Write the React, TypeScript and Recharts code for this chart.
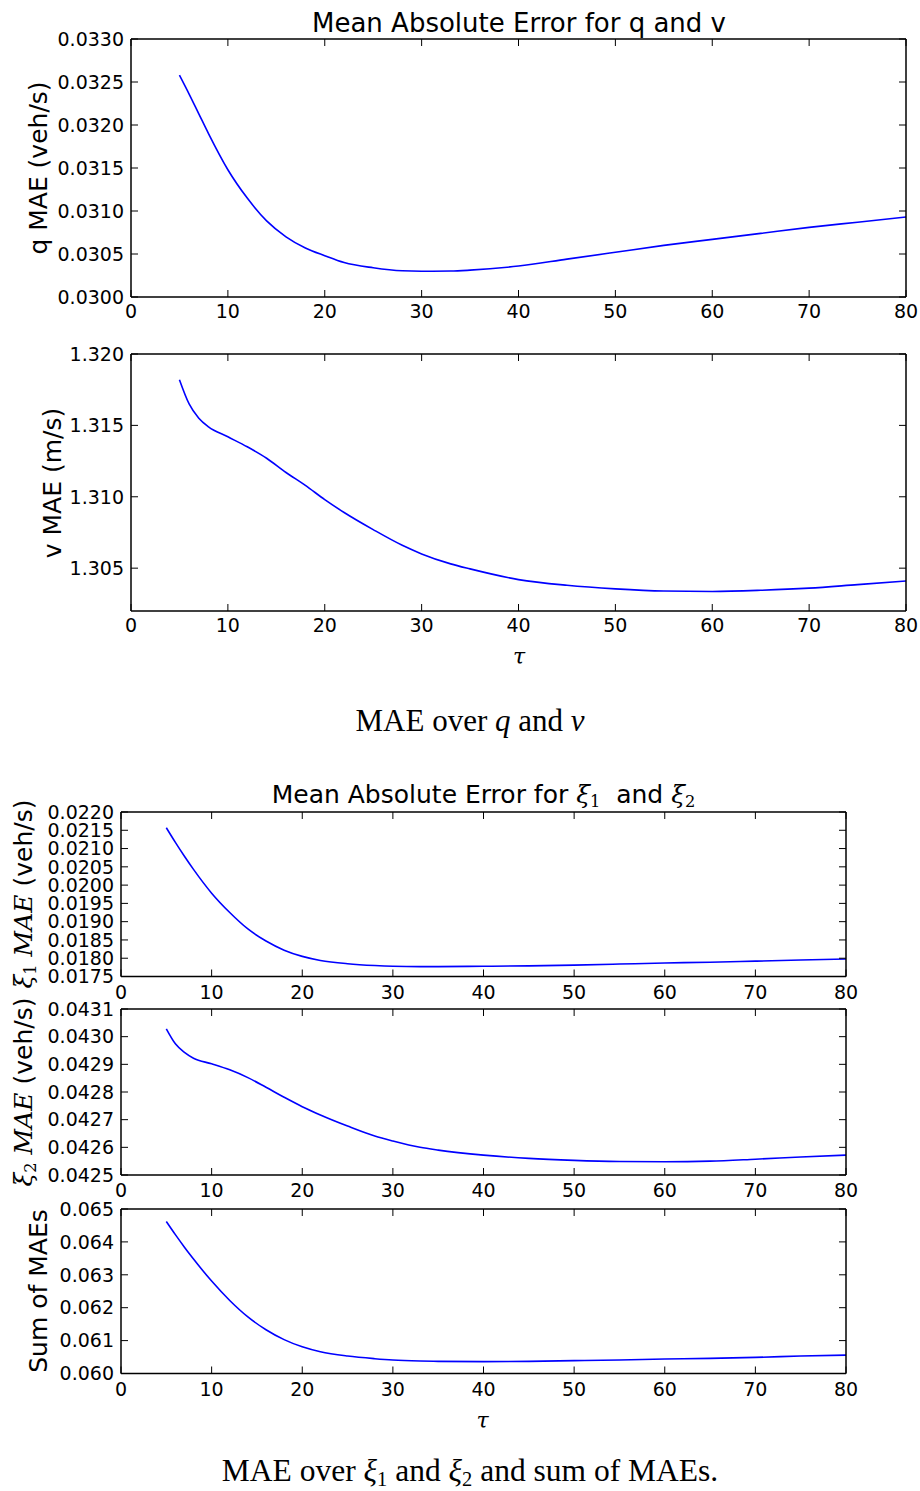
import React from 'react'
import { LineChart, Line, XAxis, YAxis } from 'recharts'

const TAU = [5, 6, 7, 8, 10, 12, 14, 16, 18, 20, 22, 25, 28, 30, 33, 35, 40, 45, 50, 55, 60, 65, 70, 75, 80]

const Q_MAE = [
  0.03258, 0.03236, 0.03213, 0.0319, 0.03148, 0.03115, 0.030885, 0.0307, 0.03057, 0.03048, 0.0304, 0.03034,
  0.030305, 0.0303, 0.030302, 0.030312, 0.03036, 0.03044, 0.03052, 0.0306, 0.03067, 0.03074, 0.03081, 0.03087, 0.03093
]
const V_MAE = [
  1.3182, 1.3165, 1.3155, 1.3149, 1.3142, 1.3135, 1.3127, 1.3117, 1.3108, 1.3098, 1.3089, 1.3077,
  1.3066, 1.306, 1.3053, 1.30495, 1.3042, 1.3038, 1.30355, 1.3034, 1.30337, 1.30345, 1.3036, 1.30385, 1.3041
]
const XI1_MAE = [
  0.02157, 0.02117, 0.02079, 0.02043, 0.01978, 0.01925, 0.0188, 0.01847, 0.01822, 0.01805, 0.01794, 0.01785,
  0.0178, 0.01778, 0.01777, 0.01777, 0.01778, 0.01779, 0.01781, 0.01784, 0.01787, 0.01789, 0.01792, 0.01795, 0.01798
]
const XI2_MAE = [
  0.043028, 0.042974, 0.042943, 0.042922, 0.042902, 0.04288, 0.042852, 0.042817, 0.042781, 0.042747, 0.042717,
  0.042677, 0.042641, 0.042623, 0.0426, 0.04259, 0.042572, 0.04256, 0.042553, 0.042549, 0.042548, 0.04255,
  0.042557, 0.042565, 0.042572
]
const SUM_MAE = [
  0.06462, 0.06422, 0.06384, 0.06348, 0.06281, 0.06222, 0.06172, 0.06133, 0.06103, 0.06081, 0.06066, 0.06053,
  0.06045, 0.06041, 0.06038, 0.06037, 0.06036, 0.06037, 0.06039, 0.06041, 0.06044, 0.06046, 0.06049, 0.06053, 0.06056
]

const X_TICKS = [0, 10, 20, 30, 40, 50, 60, 70, 80]
const Q_TICKS = [0.03, 0.0305, 0.031, 0.0315, 0.032, 0.0325, 0.033]
const V_TICKS = [1.305, 1.31, 1.315, 1.32]
const XI1_TICKS = [0.0175, 0.018, 0.0185, 0.019, 0.0195, 0.02, 0.0205, 0.021, 0.0215, 0.022]
const XI2_TICKS = [0.0425, 0.0426, 0.0427, 0.0428, 0.0429, 0.043, 0.0431]
const SUM_TICKS = [0.06, 0.061, 0.062, 0.063, 0.064, 0.065]

const SANS = '"DejaVu Sans", sans-serif'
const MATH = '"DejaVu Serif", serif'
const CAPTION = '"Liberation Serif", "Times New Roman", serif'

type PanelProps = {
  left: number
  right: number
  top: number
  bottom: number
  values: number[]
  domain: [number, number]
  ticks: number[]
  digits: number
  gap: number
}

function Panel({ left, right, top, bottom, values, domain, ticks, digits, gap }: PanelProps) {
  const data = TAU.map((t, i) => ({ tau: t, mae: values[i] }))
  const pad = 20
  const axisH = 40
  const height = bottom - top + pad + axisH
  const axisLine = { stroke: '#000', strokeWidth: 1.5 }
  const tickLine = { stroke: '#000', strokeWidth: 1 }
  const tickFont = { fill: '#000', fontSize: 19, fontFamily: SANS }

  return (
    <div style={{ position: 'absolute', left: 0, top: top - pad }}>
      <LineChart width={920} height={height} data={data} margin={{ top: pad, right: 920 - right, bottom: 0, left: 0 }}>
        <XAxis
          xAxisId="b"
          dataKey="tau"
          type="number"
          domain={[0, 80]}
          ticks={X_TICKS}
          interval={0}
          height={axisH}
          stroke="#000"
          axisLine={axisLine}
          tickLine={tickLine}
          tickSize={-7}
          tickMargin={7 + gap}
          tick={tickFont}
          allowDataOverflow
        />
        <XAxis
          xAxisId="t"
          orientation="top"
          dataKey="tau"
          type="number"
          domain={[0, 80]}
          ticks={X_TICKS}
          interval={0}
          mirror
          stroke="#000"
          axisLine={axisLine}
          tickLine={tickLine}
          tickSize={7}
          tickFormatter={() => ''}
          allowDataOverflow
        />
        <YAxis
          yAxisId="l"
          type="number"
          domain={domain}
          ticks={ticks}
          interval={0}
          width={left}
          stroke="#000"
          axisLine={axisLine}
          tickLine={tickLine}
          tickSize={-7}
          tickMargin={14}
          tick={tickFont}
          tickFormatter={(v: number) => v.toFixed(digits)}
          allowDataOverflow
        />
        <YAxis
          yAxisId="r"
          orientation="right"
          type="number"
          domain={domain}
          ticks={ticks}
          interval={0}
          mirror
          stroke="#000"
          axisLine={axisLine}
          tickLine={tickLine}
          tickSize={7}
          tickFormatter={() => ''}
          allowDataOverflow
        />
        <Line
          xAxisId="b"
          yAxisId="l"
          dataKey="mae"
          type="monotone"
          stroke="#0000ff"
          strokeWidth={1.6}
          dot={false}
          isAnimationActive={false}
        />
      </LineChart>
    </div>
  )
}

const Sub = ({ children }: { children: React.ReactNode }) => (
  <sub style={{ fontSize: '0.65em', fontStyle: 'normal', verticalAlign: '-0.25em', lineHeight: 0 }}>{children}</sub>
)

const Xi = ({ n }: { n: string }) => (
  <span style={{ fontFamily: MATH, fontStyle: 'italic' }}>
    ξ<Sub>{n}</Sub>
  </span>
)

function YLabel({ cx, cy, children }: { cx: number; cy: number; children: React.ReactNode }) {
  return (
    <div
      style={{
        position: 'absolute',
        left: cx,
        top: cy,
        transform: 'translate(-50%, -50%) rotate(-90deg)',
        whiteSpace: 'nowrap',
        fontFamily: SANS,
        fontSize: 25,
        lineHeight: 1,
        color: '#000'
      }}
    >
      {children}
    </div>
  )
}

function Text({ cx, top, size, font, italic, children }: { cx: number; top: number; size: number; font: string; italic?: boolean; children: React.ReactNode }) {
  return (
    <div
      style={{
        position: 'absolute',
        left: cx,
        top,
        transform: 'translateX(-50%)',
        whiteSpace: 'nowrap',
        fontFamily: font,
        fontSize: size,
        fontStyle: italic ? 'italic' : 'normal',
        lineHeight: 1,
        color: '#000'
      }}
    >
      {children}
    </div>
  )
}

export default function App() {
  return (
    <div style={{ position: 'absolute', left: 0, top: 0, width: 920, height: 1491, background: '#fff', overflow: 'hidden' }}>
      {/* q and v */}
      <Text cx={519} top={9.5} size={26} font={SANS}>Mean Absolute Error for q and v</Text>
      <Panel left={131} right={906} top={39} bottom={297} values={Q_MAE} domain={[0.03, 0.033]} ticks={Q_TICKS} digits={4} gap={8} />
      <YLabel cx={38} cy={168}>q MAE (veh/s)</YLabel>
      <Panel left={131} right={906} top={354} bottom={611} values={V_MAE} domain={[1.302, 1.32]} ticks={V_TICKS} digits={3} gap={8} />
      <YLabel cx={51.5} cy={482.5}>v MAE (m/s)</YLabel>
      <Text cx={519} top={646} size={22} font={MATH} italic>τ</Text>
      <Text cx={470} top={705} size={31} font={CAPTION}>
        MAE over <i>q</i> and <i>v</i>
      </Text>

      {/* xi1, xi2 and sum */}
      <Text cx={483.5} top={782} size={25} font={SANS}>
        Mean Absolute Error for <Xi n="1" />&nbsp; and <Xi n="2" />
      </Text>
      <Panel left={121} right={846} top={811.5} bottom={976} values={XI1_MAE} domain={[0.0175, 0.022]} ticks={XI1_TICKS} digits={4} gap={9} />
      <YLabel cx={22.5} cy={894}>
        <span style={{ fontFamily: MATH, fontStyle: 'italic' }}>ξ<Sub>1</Sub> MAE</span> (veh/s)
      </YLabel>
      <Panel left={121} right={846} top={1009} bottom={1175} values={XI2_MAE} domain={[0.0425, 0.0431]} ticks={XI2_TICKS} digits={4} gap={9} />
      <YLabel cx={22.5} cy={1092}>
        <span style={{ fontFamily: MATH, fontStyle: 'italic' }}>ξ<Sub>2</Sub> MAE</span> (veh/s)
      </YLabel>
      <Panel left={121} right={846} top={1208.5} bottom={1373} values={SUM_MAE} domain={[0.06, 0.065]} ticks={SUM_TICKS} digits={3} gap={9} />
      <YLabel cx={38} cy={1291}>Sum of MAEs</YLabel>
      <Text cx={482.5} top={1410} size={22} font={MATH} italic>τ</Text>
      <Text cx={470} top={1455} size={31.5} font={CAPTION}>
        MAE over <i>ξ<Sub>1</Sub></i> and <i>ξ<Sub>2</Sub></i> and sum of MAEs.
      </Text>
    </div>
  )
}
